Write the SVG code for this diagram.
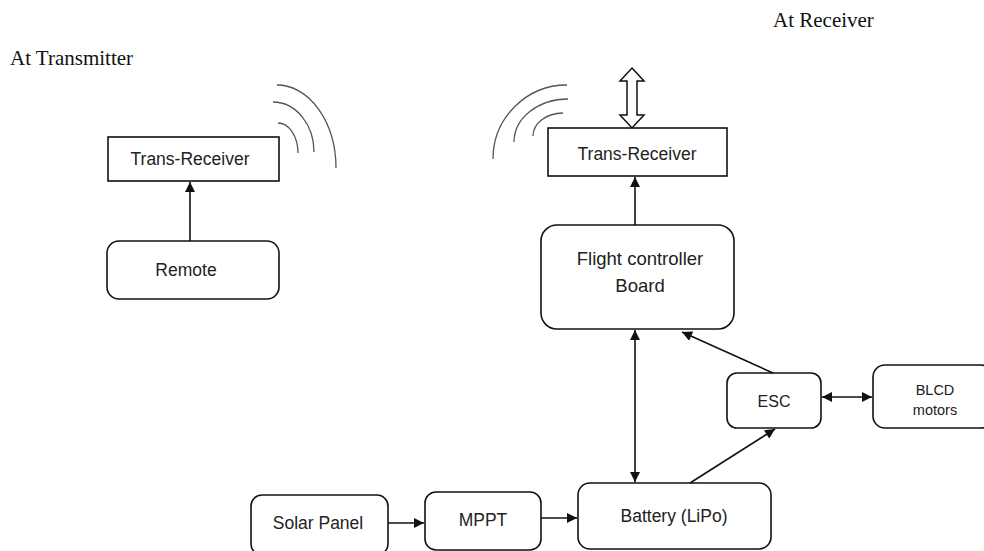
<svg xmlns="http://www.w3.org/2000/svg" width="984" height="551" viewBox="0 0 984 551">
<style>
.box{fill:#fff;stroke:#111;stroke-width:1.6}
.lbl{font-family:"Liberation Sans",Arial,sans-serif;font-size:17.5px;fill:#222;text-anchor:middle}
.sm{font-size:14.5px}
.title{font-family:"Liberation Serif","Times New Roman",serif;font-size:21px;fill:#111}
.wave{fill:none;stroke:#555;stroke-width:1.3}
.con{fill:none;stroke:#111;stroke-width:1.6}
</style>
<defs>
<marker id="ah" viewBox="0 0 10 10" refX="10" refY="5" markerWidth="11" markerHeight="10" markerUnits="userSpaceOnUse" orient="auto-start-reverse">
<path d="M0,0 L10,5 L0,10 z" fill="#111"/>
</marker>
</defs>
<rect width="984" height="551" fill="#fff"/>
<text class="title" x="10" y="65">At Transmitter</text>
<text class="title" x="773" y="27">At Receiver</text>

<g id="tx-waves">
<path class="wave" d="M277,85 A59,83 0 0 1 336,168"/>
<path class="wave" d="M273,102 A41,50 0 0 1 314,152"/>
<path class="wave" d="M278,123 A20,30 0 0 1 298,153"/>
</g>
<g id="rx-waves">
<path class="wave" d="M567,85 A74,74 0 0 0 493,159"/>
<path class="wave" d="M568,99 A54,43 0 0 0 514,142"/>
<path class="wave" d="M563,113 A30,23 0 0 0 533,136"/>
</g>

<g id="tx-transreceiver">
<rect class="box" x="108" y="137" width="171" height="44"/>
<text class="lbl" x="190" y="165">Trans-Receiver</text>
</g>
<g id="remote">
<rect class="box" x="107" y="241" width="172" height="58" rx="12"/>
<text class="lbl" x="186" y="276">Remote</text>
</g>
<g id="rx-transreceiver">
<rect class="box" x="548" y="128" width="179" height="48"/>
<text class="lbl" x="637" y="160">Trans-Receiver</text>
</g>
<g id="antenna-io">
<path d="M632,68 L644,81 L637,81 L637,115 L644,115 L632,128 L620,115 L627,115 L627,81 L620,81 Z" fill="#fff" stroke="#111" stroke-width="1.5" stroke-linejoin="miter"/>
</g>
<g id="flight-controller">
<rect class="box" x="541" y="225" width="193" height="104" rx="16"/>
<text class="lbl" x="640" y="265" style="font-size:18.5px">Flight controller</text>
<text class="lbl" x="640" y="292" style="font-size:18.5px">Board</text>
</g>
<g id="esc">
<rect class="box" x="727" y="373" width="94" height="55" rx="10"/>
<text class="lbl" x="774" y="407" style="font-size:16px">ESC</text>
</g>
<g id="blcd-motors">
<rect class="box" x="873" y="365" width="120" height="63" rx="12"/>
<text class="lbl sm" x="935" y="395">BLCD</text>
<text class="lbl sm" x="935" y="415">motors</text>
</g>
<g id="solar-panel">
<rect class="box" x="251" y="495" width="137" height="60" rx="11"/>
<text class="lbl" x="318" y="529">Solar Panel</text>
</g>
<g id="mppt">
<rect class="box" x="425" y="492" width="116" height="58" rx="11"/>
<text class="lbl" x="483" y="526">MPPT</text>
</g>
<g id="battery">
<rect class="box" x="578" y="483" width="193" height="66" rx="12"/>
<text class="lbl" x="674" y="522">Battery (LiPo)</text>
</g>

<g id="connectors">
<line class="con" x1="190" y1="241" x2="190" y2="182" marker-end="url(#ah)"/>
<line class="con" x1="635" y1="225" x2="635" y2="177" marker-end="url(#ah)"/>
<line class="con" x1="635" y1="330" x2="635" y2="482" marker-start="url(#ah)" marker-end="url(#ah)"/>
<line class="con" x1="773" y1="373" x2="682" y2="332" marker-end="url(#ah)"/>
<line class="con" x1="690" y1="483" x2="775" y2="429" marker-end="url(#ah)"/>
<line class="con" x1="822" y1="397" x2="872" y2="397" marker-start="url(#ah)" marker-end="url(#ah)"/>
<line class="con" x1="388" y1="523" x2="424" y2="523" marker-end="url(#ah)"/>
<line class="con" x1="541" y1="518" x2="577" y2="518" marker-end="url(#ah)"/>
</g>
</svg>
